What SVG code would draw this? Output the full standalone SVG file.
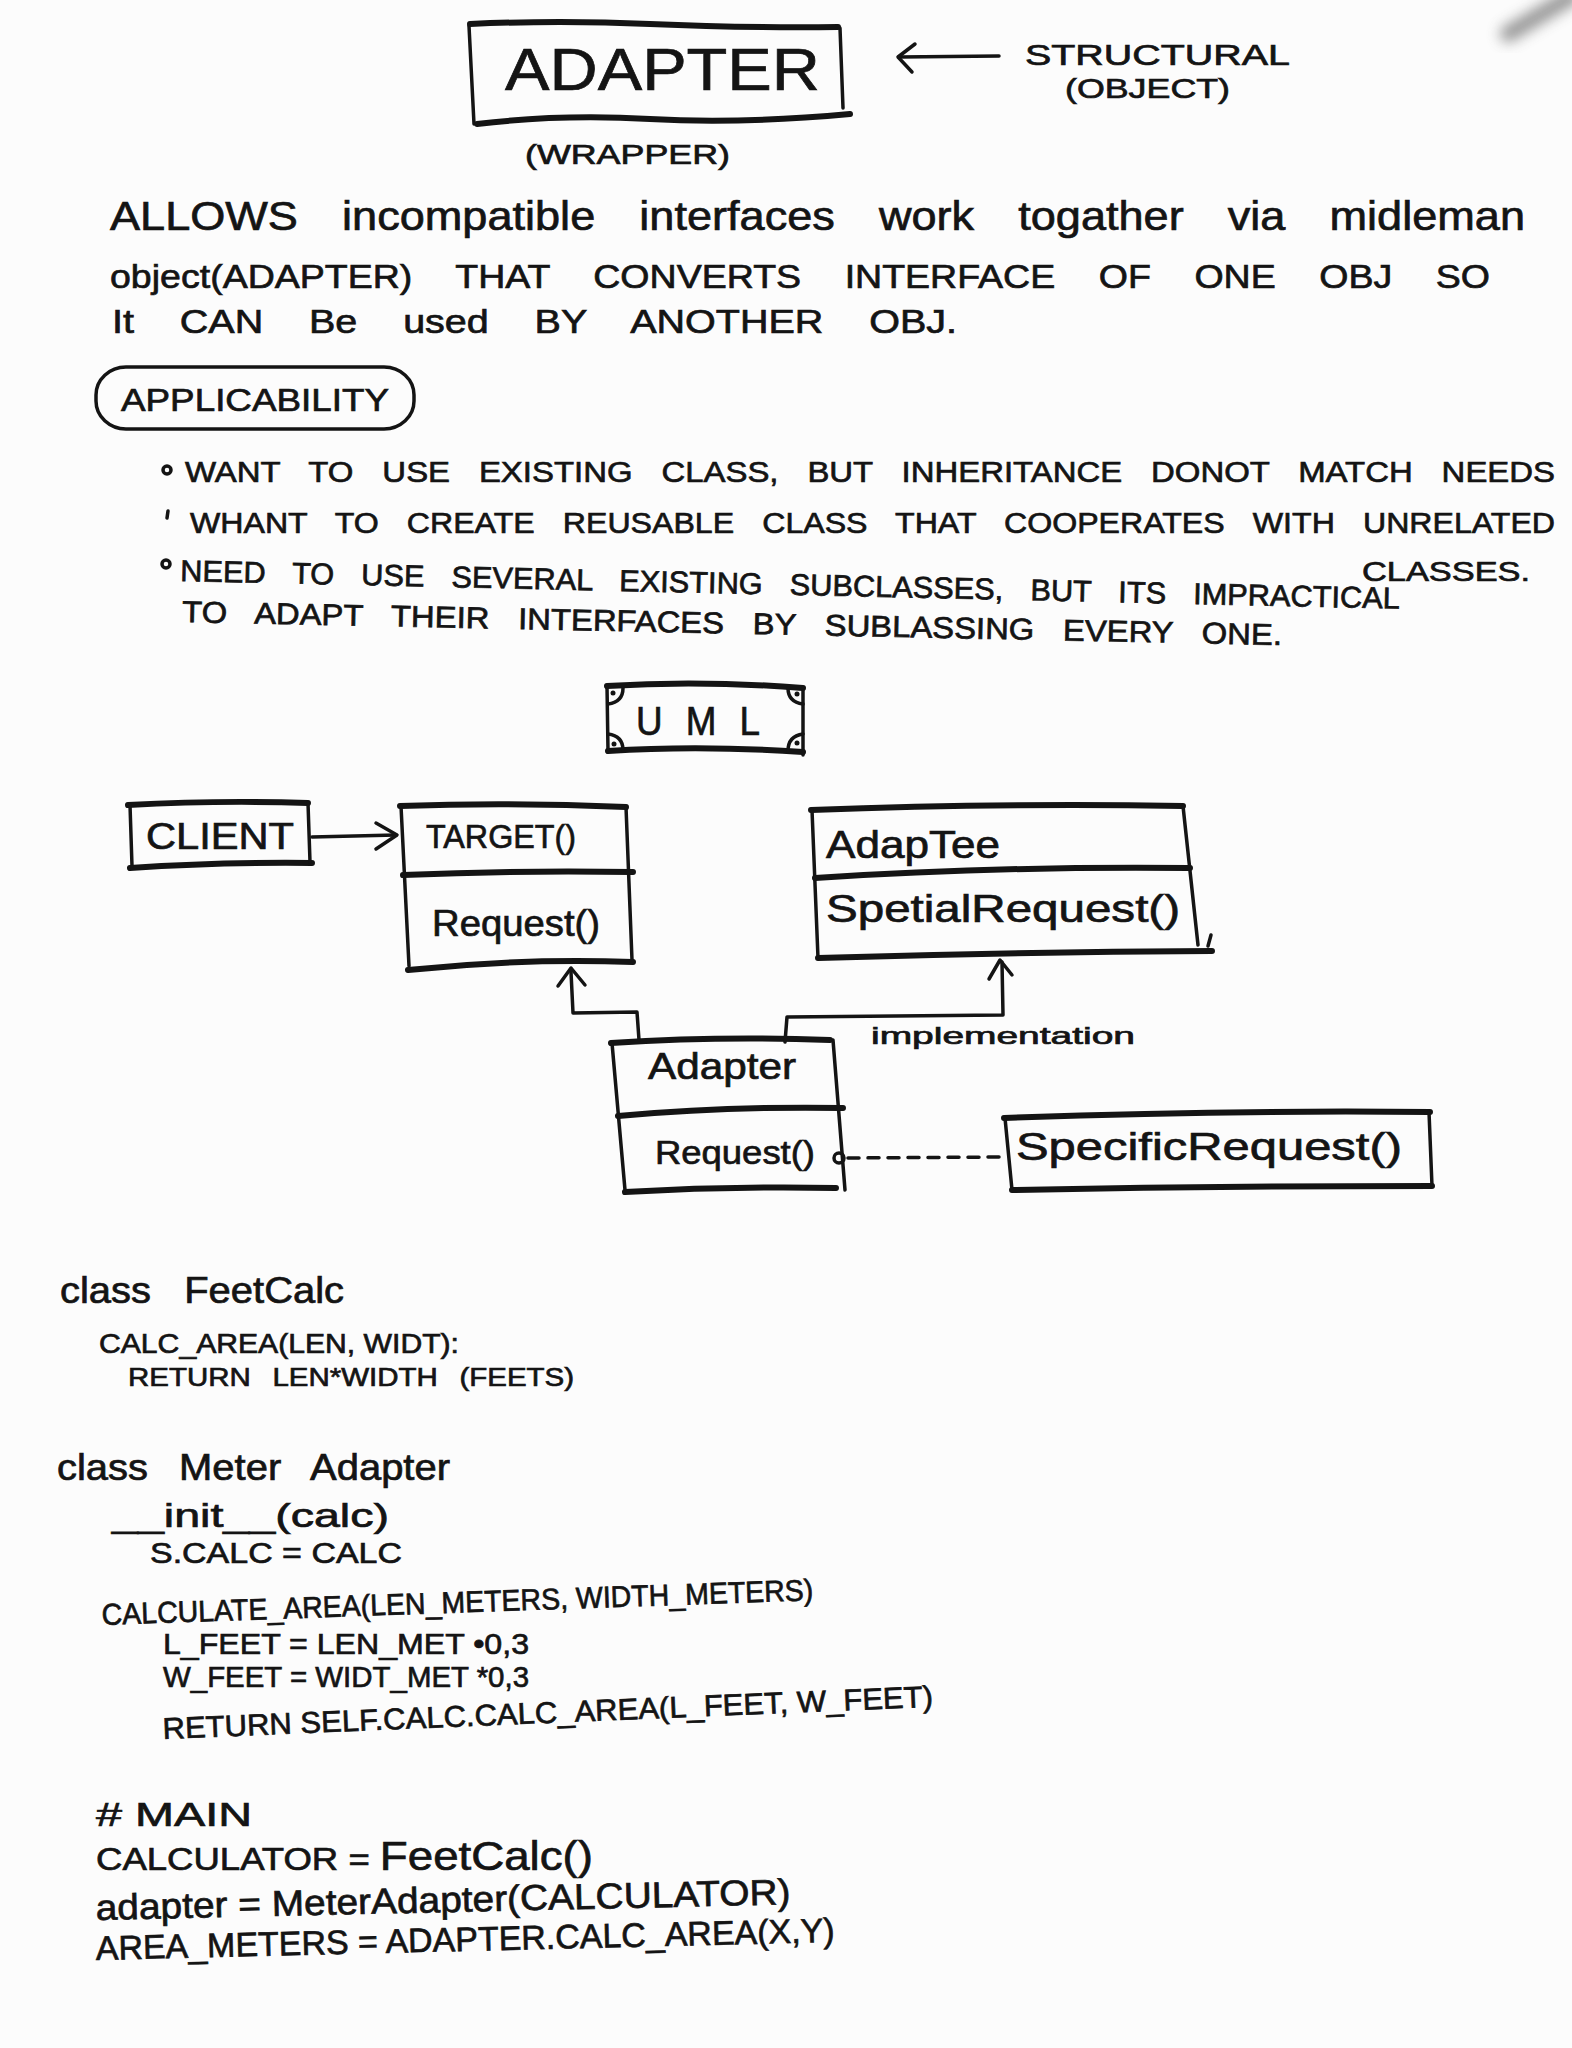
<svg xmlns="http://www.w3.org/2000/svg" width="1572" height="2048" viewBox="0 0 1572 2048">
  <style>
    .ink{fill:none;stroke:#141414;stroke-width:3.5;stroke-linecap:round;stroke-linejoin:round}
    .edge{fill:none;stroke:#141414;stroke-width:6;stroke-linecap:round;stroke-linejoin:round}
    .hw{font-family:"Liberation Sans Narrow","Liberation Sans",sans-serif;fill:#141414;stroke:#141414;stroke-width:0.7}
    .dot{fill:#141414}
  </style>
  <defs>
    <filter id="soft" x="-50%" y="-50%" width="200%" height="200%">
      <feGaussianBlur stdDeviation="7"/>
    </filter>
  </defs>

  <!-- paper -->
  <rect width="1572" height="2048" fill="#fcfcfc"/>
  <!-- out-of-focus pen tip in the corner -->
  <path d="M1572,-4 L1508,34" stroke="#7a7a7a" stroke-width="16" stroke-linecap="round" filter="url(#soft)" opacity="0.8"/>

  <!-- heading -->
  <g id="title">
    <path class="ink" d="M469,26 L474,124"/>
    <path class="ink" d="M840,28 L843,108"/>
    <path class="edge" d="M470,24 Q560,20 650,24 T838,27"/>
    <path class="edge" d="M477,124 Q560,114 650,119 T850,114"/>
    <text class="hw" x="505" y="90" font-size="60" textLength="315" lengthAdjust="spacingAndGlyphs">ADAPTER</text>
  </g>
  <g id="category">
    <text class="hw" x="1025" y="65" font-size="30" textLength="265" lengthAdjust="spacingAndGlyphs">STRUCTURAL</text>
    <text class="hw" x="1065" y="98" font-size="28" textLength="165" lengthAdjust="spacingAndGlyphs">(OBJECT)</text>
  </g>
  <g id="alias">
    <text class="hw" x="525" y="164" font-size="28" textLength="205" lengthAdjust="spacingAndGlyphs">(WRAPPER)</text>
  </g>

  <!-- definition -->
  <g id="definition">
    <text class="hw" x="110" y="230" font-size="40" word-spacing="28" textLength="1415" lengthAdjust="spacingAndGlyphs">ALLOWS incompatible interfaces work togather via midleman</text>
    <text class="hw" x="110" y="288" font-size="34" word-spacing="30" textLength="1380" lengthAdjust="spacingAndGlyphs">object(ADAPTER) THAT CONVERTS INTERFACE OF ONE OBJ SO</text>
    <text class="hw" x="112" y="333" font-size="34" word-spacing="30" textLength="845" lengthAdjust="spacingAndGlyphs">It CAN Be used BY ANOTHER OBJ.</text>
  </g>

  <!-- applicability -->
  <g id="applicability">
    <rect class="ink" x="96" y="367" width="318" height="62" rx="30" ry="28"/>
    <text class="hw" x="121" y="411" font-size="32" textLength="268" lengthAdjust="spacingAndGlyphs">APPLICABILITY</text>
  </g>
  <g id="bullets">
    <circle class="ink" cx="167" cy="470" r="4"/>
    <text class="hw" x="185" y="482" font-size="30" word-spacing="18" textLength="1370" lengthAdjust="spacingAndGlyphs">WANT TO USE EXISTING CLASS, BUT INHERITANCE DONOT MATCH NEEDS</text>
    <path class="ink" d="M168,511 L167,518"/>
    <text class="hw" x="190" y="533" font-size="30" word-spacing="18" textLength="1365" lengthAdjust="spacingAndGlyphs">WHANT TO CREATE REUSABLE CLASS THAT COOPERATES WITH UNRELATED</text>
    <text class="hw" x="1362" y="581" font-size="28" textLength="168" lengthAdjust="spacingAndGlyphs">CLASSES.</text>
    <circle class="ink" cx="166" cy="564" r="4"/>
    <text class="hw" x="180" y="581" font-size="30" word-spacing="18" textLength="1220" lengthAdjust="spacingAndGlyphs" transform="rotate(1.3 180 581)">NEED TO USE SEVERAL EXISTING SUBCLASSES, BUT ITS IMPRACTICAL</text>
    <text class="hw" x="182" y="622" font-size="30" word-spacing="18" textLength="1100" lengthAdjust="spacingAndGlyphs" transform="rotate(1.2 182 622)">TO ADAPT THEIR INTERFACES BY SUBLASSING EVERY ONE.</text>
  </g>

  <!-- UML banner -->
  <g id="uml-banner">
    <path class="edge" d="M607,686 Q700,680 803,688"/>
    <path class="edge" d="M608,751 Q700,745 803,752"/>
    <path class="ink" d="M607,686 L608,751"/>
    <path class="ink" d="M803,688 L803,755"/>
    <path class="ink" d="M608,704 Q623,702 623,688"/>
    <path class="ink" d="M803,704 Q788,702 788,688"/>
    <path class="ink" d="M608,734 Q623,736 623,750"/>
    <path class="ink" d="M803,734 Q788,736 788,751"/>
    <circle class="dot" cx="613" cy="693" r="2.5"/>
    <circle class="dot" cx="797" cy="694" r="2.5"/>
    <circle class="dot" cx="614" cy="744" r="2.5"/>
    <circle class="dot" cx="797" cy="743" r="2.5"/>
    <text class="hw" x="636" y="735" font-size="40" word-spacing="14" textLength="124" lengthAdjust="spacingAndGlyphs">U M L</text>
  </g>

  <!-- class diagram nodes -->
  <g id="client">
    <path class="edge" d="M128,805 Q220,800 308,803"/>
    <path class="edge" d="M130,868 Q220,862 312,863"/>
    <path class="ink" d="M130,805 L132,866"/>
    <path class="ink" d="M308,803 L310,862"/>
    <text class="hw" x="146" y="849" font-size="36" textLength="148" lengthAdjust="spacingAndGlyphs">CLIENT</text>
  </g>

  <g id="target">
    <path class="edge" d="M400,806 Q510,802 626,807"/>
    <path class="ink" d="M401,806 L409,966"/>
    <path class="ink" d="M626,807 L632,960"/>
    <path class="edge" d="M403,875 Q520,870 633,872"/>
    <path class="edge" d="M408,970 Q520,958 633,962"/>
    <text class="hw" x="426" y="848" font-size="34" textLength="150" lengthAdjust="spacingAndGlyphs">TARGET()</text>
    <text class="hw" x="432" y="936" font-size="36" textLength="168" lengthAdjust="spacingAndGlyphs">Request()</text>
  </g>

  <g id="adaptee">
    <path class="edge" d="M811,810 Q1000,803 1183,806"/>
    <path class="ink" d="M812,810 L818,958"/>
    <path class="ink" d="M1183,806 L1198,945"/>
    <path class="edge" d="M815,878 Q1000,866 1190,868"/>
    <path class="edge" d="M818,958 Q1010,952 1212,951"/>
    <path class="ink" d="M1211,935 L1208,946"/>
    <text class="hw" x="826" y="858" font-size="38" textLength="174" lengthAdjust="spacingAndGlyphs">AdapTee</text>
    <text class="hw" x="826" y="922" font-size="38" textLength="354" lengthAdjust="spacingAndGlyphs">SpetialRequest()</text>
  </g>

  <g id="adapter">
    <path class="edge" d="M611,1043 Q720,1036 830,1040"/>
    <path class="ink" d="M612,1043 L625,1190"/>
    <path class="ink" d="M833,1040 L845,1190"/>
    <path class="edge" d="M618,1116 Q730,1106 843,1108"/>
    <path class="edge" d="M625,1192 Q730,1186 836,1188"/>
    <text class="hw" x="648" y="1079" font-size="36" textLength="148" lengthAdjust="spacingAndGlyphs">Adapter</text>
    <text class="hw" x="655" y="1164" font-size="34" textLength="160" lengthAdjust="spacingAndGlyphs">Request()</text>
  </g>

  <g id="specific-request">
    <path class="edge" d="M1004,1118 Q1220,1110 1430,1112"/>
    <path class="ink" d="M1005,1118 L1012,1190"/>
    <path class="ink" d="M1429,1112 L1432,1186"/>
    <path class="edge" d="M1012,1190 Q1220,1186 1432,1186"/>
    <text class="hw" x="1016" y="1160" font-size="38" textLength="386" lengthAdjust="spacingAndGlyphs">SpecificRequest()</text>
  </g>

  <!-- connectors -->
  <g id="connectors">
    <!-- category pointer to the heading -->
    <path class="ink" d="M999,56 L899,57"/>
    <path class="ink" d="M915,44 L898,57 L912,72"/>

    <path class="ink" d="M312,837 L396,835"/>
    <path class="ink" d="M376,823 L397,835 L376,849"/>

    <path class="ink" d="M639,1040 L637,1012 L573,1013 L571,972"/>
    <path class="ink" d="M558,986 L571,968 L585,985"/>

    <path class="ink" d="M785,1042 L787,1017 L1003,1015 L1002,962"/>
    <path class="ink" d="M989,979 L1000,960 L1012,975"/>
    <text class="hw" x="871" y="1044" font-size="24" textLength="264" lengthAdjust="spacingAndGlyphs">implementation</text>

    <circle class="ink" cx="839" cy="1158" r="5"/>
    <path class="ink" d="M848,1158 L1003,1157" stroke-dasharray="11 9"/>
  </g>

  <!-- sample code -->
  <g id="code">
    <text class="hw" x="60" y="1303" font-size="36" word-spacing="20" textLength="284" lengthAdjust="spacingAndGlyphs">class FeetCalc</text>
    <text class="hw" x="99" y="1353" font-size="28" textLength="360" lengthAdjust="spacingAndGlyphs">CALC_AREA(LEN, WIDT):</text>
    <text class="hw" x="128" y="1386" font-size="26" word-spacing="12" textLength="446" lengthAdjust="spacingAndGlyphs">RETURN LEN*WIDTH (FEETS)</text>

    <text class="hw" x="57" y="1480" font-size="36" word-spacing="18" textLength="393" lengthAdjust="spacingAndGlyphs">class Meter Adapter</text>
    <text class="hw" x="112" y="1527" font-size="34" textLength="277" lengthAdjust="spacingAndGlyphs">__init__(calc)</text>
    <text class="hw" x="150" y="1563" font-size="30" textLength="252" lengthAdjust="spacingAndGlyphs">S.CALC = CALC</text>
    <text class="hw" x="102" y="1625" font-size="30" textLength="712" lengthAdjust="spacingAndGlyphs" transform="rotate(-2 102 1625)">CALCULATE_AREA(LEN_METERS, WIDTH_METERS)</text>
    <text class="hw" x="163" y="1654" font-size="30" textLength="366" lengthAdjust="spacingAndGlyphs">L_FEET = LEN_MET •0,3</text>
    <text class="hw" x="163" y="1687" font-size="30" textLength="366" lengthAdjust="spacingAndGlyphs">W_FEET = WIDT_MET *0,3</text>
    <text class="hw" x="163" y="1739" font-size="30" textLength="771" lengthAdjust="spacingAndGlyphs" transform="rotate(-2.4 163 1739)">RETURN SELF.CALC.CALC_AREA(L_FEET, W_FEET)</text>

    <text class="hw" x="96" y="1826" font-size="34" textLength="156" lengthAdjust="spacingAndGlyphs"># MAIN</text>
    <text class="hw" x="96" y="1870" font-size="32" textLength="497" lengthAdjust="spacingAndGlyphs">CALCULATOR = <tspan font-size="40">FeetCalc()</tspan></text>
    <text class="hw" x="96" y="1920" font-size="36" textLength="695" lengthAdjust="spacingAndGlyphs" transform="rotate(-1.3 96 1920)">adapter = MeterAdapter(CALCULATOR)</text>
    <text class="hw" x="96" y="1960" font-size="34" textLength="739" lengthAdjust="spacingAndGlyphs" transform="rotate(-1.4 96 1960)">AREA_METERS = ADAPTER.CALC_AREA(X,Y)</text>
  </g>
</svg>
